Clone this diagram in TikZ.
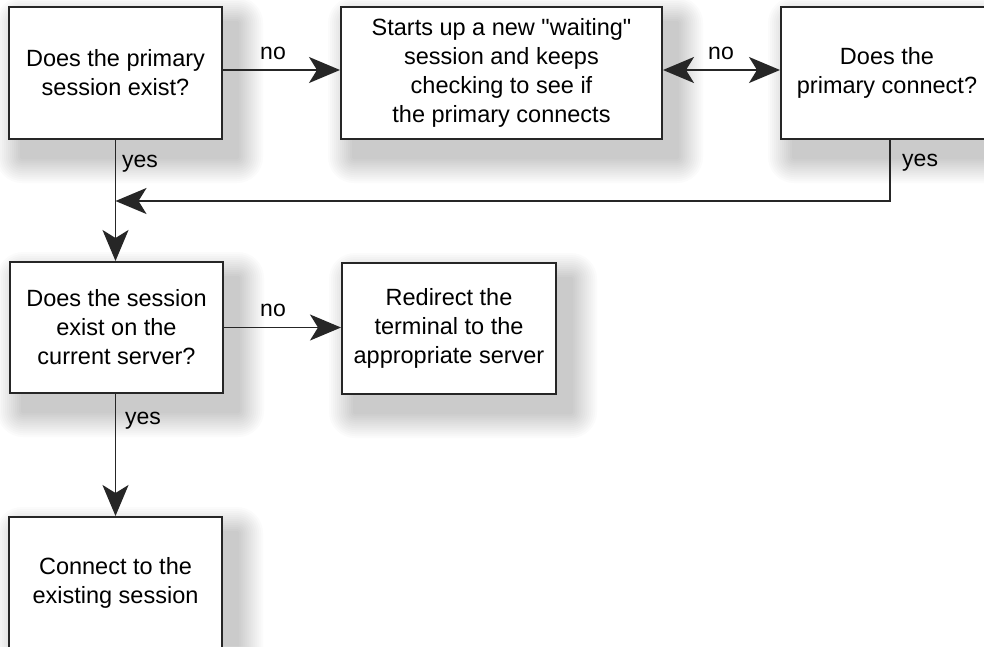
\documentclass[tikz,border=0pt]{standalone}
\usepackage{fontspec}
\setmainfont{Liberation Sans}
\usetikzlibrary{arrows.meta,backgrounds}
\begin{document}
\begin{tikzpicture}[x=1pt,y=-1pt,
  box/.style={draw=black!85, line width=2pt, fill=white, align=center,
    inner sep=0pt, font=\fontsize{23.5}{29}\selectfont},
  lbl/.style={font=\fontsize{23}{28}\selectfont, inner sep=0pt},
  conn/.style={draw=black!85, line width=1.8pt},
  tip/.tip={Stealth[length=31pt,width=26pt,inset=8pt]},
  arr/.style={conn, -tip},
  darr/.style={conn, tip-tip}]

% page area
\useasboundingbox (0,0) rectangle (984,646);

% decision and action boxes
\node[box, minimum width=213pt, minimum height=132pt] (exist) at (115.5,73)
  {Does the primary\\session exist?};
\node[box, minimum width=321pt, minimum height=132pt] (wait) at (501.5,73)
  {Starts up a new \textquotedbl waiting\textquotedbl\\session and keeps\\checking to see if\\the primary connects};
\node[box, minimum width=212pt, minimum height=132pt] (conn) at (887,73)
  {Does the\\primary connect?};
\node[box, minimum width=213pt, minimum height=131pt] (local) at (116.5,327.5)
  {Does the session\\exist on the\\current server?};
\node[box, minimum width=214pt, minimum height=131pt] (redir) at (449,328.5)
  {Redirect the\\terminal to the\\appropriate server};
\node[box, minimum width=213pt, minimum height=131pt] (attach) at (115.5,582.5)
  {Connect to the\\existing session};

% soft drop shadows behind the boxes
\begin{scope}[on background layer]
  \fill[white] (0,0) rectangle (984,646);
  \foreach \b in {exist,wait,conn,local,redir,attach}{
    \foreach \r in {2,4,...,26}{
      \fill[black, opacity=0.016, rounded corners=\r pt]
        ([shift={(14-\r,17-\r)}]\b.north west) rectangle
        ([shift={(14+\r,17+\r)}]\b.south east);
    }
  }
\end{scope}

% junction where the "yes" branches meet
\coordinate (join) at (115.5,201);

% connectors
\draw[arr] ([yshift=3pt]exist.east) -- ([yshift=3pt]wait.west);
\draw[darr] ([yshift=3pt]wait.east) -- ([yshift=3pt]conn.west);
\draw[arr] (exist.south) -- (exist.south |- local.north);
\draw[arr] ([xshift=3pt]conn.south) |- (join);
\draw[arr] (local.east) -- (local.east -| redir.west);
\draw[arr] (exist.south |- local.south) -- (exist.south |- attach.north);

% branch labels
\node[lbl] (no1) at (273,53) {no};
\node[lbl] (no2) at (721,53) {no};
\node[lbl] (no3) at (273,310) {no};
\node[lbl, anchor=west] (yes1) at (122,164) {yes};
\node[lbl, anchor=west] (yes2) at (902,163) {yes};
\node[lbl, anchor=west] (yes3) at (125,421) {yes};
\end{tikzpicture}
\end{document}
